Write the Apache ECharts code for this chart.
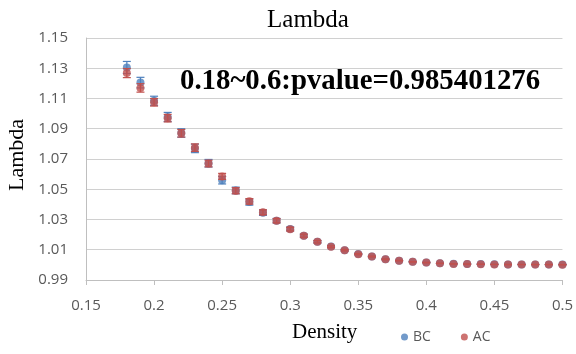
<!DOCTYPE html>
<html><head><meta charset="utf-8">
<script src="https://cdn.jsdelivr.net/npm/echarts@6/dist/echarts.min.js"></script>
<style>html,body{margin:0;padding:0;background:#fff}#c{width:576px;height:354px}</style>
</head><body><div id="c"></div>
<script>
var density = [0.18,0.19,0.20,0.21,0.22,0.23,0.24,0.25,0.26,0.27,0.28,0.29,0.30,0.31,0.32,0.33,0.34,0.35,0.36,0.37,0.38,0.39,0.40,0.41,0.42,0.43,0.44,0.45,0.46,0.47,0.48,0.49,0.50];
var bcValues = [1.1305,1.1205,1.1085,1.0978,1.0872,1.0770,1.0672,1.0560,1.0492,1.0415,1.0345,1.0292,1.0238,1.0193,1.0153,1.0121,1.0097,1.0072,1.0055,1.0038,1.0028,1.0021,1.0016,1.0011,1.0008,1.0006,1.0005,1.0004,1.0003,1.0003,1.0002,1.0002,1.0002];
var acValues = [1.1268,1.1170,1.1075,1.0970,1.0870,1.0775,1.0670,1.0585,1.0490,1.0420,1.0348,1.0292,1.0236,1.0193,1.0153,1.0120,1.0097,1.0071,1.0055,1.0037,1.0028,1.0020,1.0015,1.0010,1.0006,1.0005,1.0004,1.0003,1.0002,1.0002,1.0002,1.0002,1.0001];
var bcErr = [0.0040,0.0035,0.0030,0.0030,0.0028,0.0028,0.0025,0.0025,0.0022,0.0020,0.0018,0.0015,0.0013,0.0010,0.0008,0.0006,0.0005,0.0004,0.0003,0.0003,0.0002,0.0002,0.0002,0.0001,0.0001,0.0001,0.0001,0.0001,0.0001,0.0001,0.0001,0.0001,0.0001];
var acErr = [0.0030,0.0028,0.0025,0.0025,0.0025,0.0025,0.0022,0.0020,0.0020,0.0018,0.0016,0.0014,0.0012,0.0010,0.0008,0.0006,0.0005,0.0004,0.0003,0.0003,0.0002,0.0002,0.0002,0.0001,0.0001,0.0001,0.0001,0.0001,0.0001,0.0001,0.0001,0.0001,0.0001];
var yTicks = [0.99,1.01,1.03,1.05,1.07,1.09,1.11,1.13,1.15];
var xTicks = [0.15,0.2,0.25,0.3,0.35,0.4,0.45,0.5];

var BLUE = '#4F81BD', RED = '#C0504D';
function pts(v){return density.map(function(d,i){return [d,v[i]];});}
function errData(v,e){return density.map(function(d,i){return [d,v[i]-e[i],v[i]+e[i]];});}
function errRender(color){
  return function(params, api){
    var x = api.value(0);
    var lo = api.coord([x, api.value(1)]);
    var hi = api.coord([x, api.value(2)]);
    var w = 4;
    return {type:'group', children:[
      {type:'line', shape:{x1:lo[0],y1:lo[1],x2:hi[0],y2:hi[1]}, style:{stroke:color,lineWidth:1.2}},
      {type:'line', shape:{x1:lo[0]-w,y1:lo[1],x2:lo[0]+w,y2:lo[1]}, style:{stroke:color,lineWidth:1.2}},
      {type:'line', shape:{x1:hi[0]-w,y1:hi[1],x2:hi[0]+w,y2:hi[1]}, style:{stroke:color,lineWidth:1.2}}
    ]};
  };
}
var chart = echarts.init(document.getElementById('c'));
var tickFont = {color:'#595959', fontSize:15, fontFamily:'Open Sans, sans-serif'};
chart.setOption({
  animation:false,
  title:{text:'Lambda', left:303, textAlign:'center', top:3, textStyle:{fontFamily:'Liberation Serif, serif', fontSize:25, fontWeight:'normal', color:'#000'}},
  grid:{left:86, right:11, top:38, bottom:74},
  legend:{data:['BC','AC'], left:396, top:325, icon:'circle', itemWidth:7, itemHeight:7, itemGap:30,
    textStyle:{color:'#595959', fontSize:14, fontFamily:'Open Sans, sans-serif'}},
  graphic:[
    {type:'text', left:180, top:67, style:{text:'0.18~0.6:pvalue=0.985401276', fontFamily:'Liberation Serif, serif', fontWeight:'bold', fontSize:28.8, fill:'#000'}},
    {type:'text', left:292, top:322, style:{text:'Density', fontFamily:'Liberation Serif, serif', fontSize:21, fill:'#000'}},
    {type:'text', x:17, y:155, rotation:Math.PI/2, style:{text:'Lambda', fontFamily:'Liberation Serif, serif', fontSize:22, fill:'#000', align:'center', verticalAlign:'middle'}}
  ],
  xAxis:{type:'value', min:0.15, max:0.5, interval:0.05,
    axisLine:{show:true, lineStyle:{color:'#bfbfbf'}},
    axisTick:{show:true, length:5, lineStyle:{color:'#bfbfbf'}},
    splitLine:{show:false},
    axisLabel:Object.assign({margin:18, formatter:function(v){return String(+v.toFixed(2));}}, tickFont)},
  yAxis:{type:'value', min:0.99, max:1.15, interval:0.02,
    axisLine:{show:true, lineStyle:{color:'#bfbfbf'}},
    axisTick:{show:false},
    splitLine:{show:true, lineStyle:{color:'#d0d0d0', width:1}},
    axisLabel:Object.assign({margin:18, formatter:function(v){return v.toFixed(2);}}, tickFont)},
  series:[
    {type:'custom', name:'BCerr', renderItem:errRender(BLUE), data:errData(bcValues,bcErr), encode:{x:0,y:[1,2]}, z:2, silent:true},
    {type:'scatter', name:'BC', data:pts(bcValues), symbol:'circle', symbolSize:8, itemStyle:{color:BLUE}, z:3},
    {type:'custom', name:'ACerr', renderItem:errRender(RED), data:errData(acValues,acErr), encode:{x:0,y:[1,2]}, z:4, silent:true},
    {type:'scatter', name:'AC', data:pts(acValues), symbol:'circle', symbolSize:8, itemStyle:{color:RED}, z:5}
  ]
});
</script></body></html>
